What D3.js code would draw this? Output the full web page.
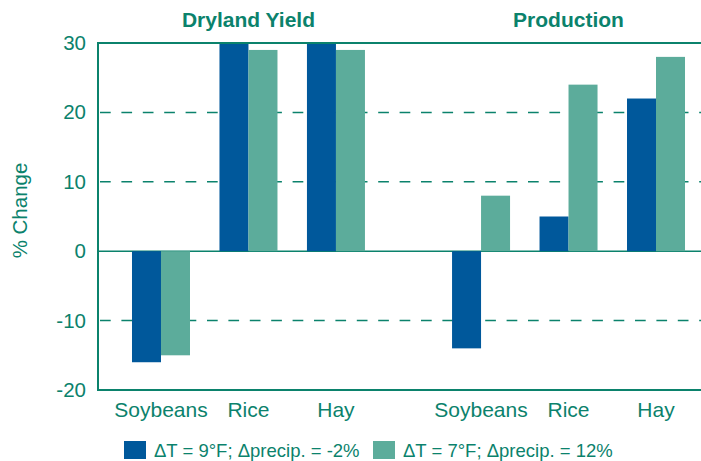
<!DOCTYPE html>
<html>
<head>
<meta charset="utf-8">
<script src="https://cdn.jsdelivr.net/npm/d3@7"></script>
<style>
    body { margin: 0; background: white; }
    text { font-family: "Liberation Sans", Arial, sans-serif; }
</style>
</head>
<body>
<div id="container"></div>
<script>
const panels = ["Dryland Yield", "Production"]
const crops = ["Soybeans", "Rice", "Hay"]
const seriesNames = ["\u0394T = 9\u00B0F; \u0394precip. = -2%", "\u0394T = 7\u00B0F; \u0394precip. = 12%"]
const hotDry = [[-16, 30, 30], [-14, 5, 22]]
const warmWet = [[-15, 29, 29], [8, 24, 28]]
const yTicks = [-20, -10, 0, 10, 20, 30]

const w = 701
const h = 461
const green = "#0b826c"
const colors = ["#00589b", "#5cac9b"]

const svg = d3.select("#container")
    .append("svg")
    .attr("width", w)
    .attr("height", h)

const plotTop = 43
const plotBottom = 390
const plotLeft = 98

const yScale = d3.scaleLinear()
    .domain([-20, 30])
    .range([plotBottom, plotTop])

const panelScale = d3.scaleBand()
    .domain(panels)
    .range([117.25, 699.75])
    .paddingInner(0.18)

const cropScale = d3.scaleBand()
    .domain(crops)
    .range([0, panelScale.bandwidth()])
    .paddingInner(0.337)
    .paddingOuter(0.1685)

const seriesScale = d3.scaleBand()
    .domain([0, 1])
    .range([0, cropScale.bandwidth()])

// gridlines
svg.selectAll(null)
    .data(yTicks.filter((d) => d !== 0 && d !== 30 && d !== -20))
    .enter()
    .append("line")
    .attr("x1", plotLeft)
    .attr("x2", w)
    .attr("y1", (d) => yScale(d))
    .attr("y2", (d) => yScale(d))
    .attr("stroke", green)
    .attr("stroke-width", 1.5)
    .attr("stroke-dasharray", "10.7,10.7")
    .attr("stroke-dashoffset", -2)

// zero line
svg.append("line")
    .attr("x1", plotLeft)
    .attr("x2", w)
    .attr("y1", yScale(0))
    .attr("y2", yScale(0))
    .attr("stroke", green)
    .attr("stroke-width", 1.5)

// bars
const rows = []
panels.forEach((p, pi) => {
    crops.forEach((c, ci) => {
        rows.push({ panel: p, crop: c, s: 0, v: hotDry[pi][ci] })
        rows.push({ panel: p, crop: c, s: 1, v: warmWet[pi][ci] })
    })
})

svg.selectAll(null)
    .data(rows)
    .enter()
    .append("rect")
    .attr("x", (d) => panelScale(d.panel) + cropScale(d.crop) + seriesScale(d.s))
    .attr("width", seriesScale.bandwidth())
    .attr("y", (d) => yScale(Math.max(0, d.v)))
    .attr("height", (d) => Math.abs(yScale(d.v) - yScale(0)))
    .attr("fill", (d) => colors[d.s])

// frame
svg.append("path")
    .attr("d", `M${w},${plotTop}H${plotLeft}V${plotBottom}H${w}`)
    .attr("fill", "none")
    .attr("stroke", green)
    .attr("stroke-width", 2)

// y axis labels
svg.selectAll(null)
    .data(yTicks)
    .enter()
    .append("text")
    .attr("x", 86)
    .attr("y", (d) => yScale(d) + 7)
    .attr("text-anchor", "end")
    .attr("fill", green)
    .style("font-size", "20.5px")
    .text((d) => d)

svg.append("text")
    .attr("transform", `translate(27, ${(plotTop + plotBottom) / 2 - 6}) rotate(-90)`)
    .attr("text-anchor", "middle")
    .attr("fill", green)
    .style("font-size", "20.5px")
    .text("% Change")

// category labels
svg.selectAll(null)
    .data(rows.filter((d) => d.s === 0))
    .enter()
    .append("text")
    .attr("x", (d) => panelScale(d.panel) + cropScale(d.crop) + cropScale.bandwidth() / 2)
    .attr("y", 417)
    .attr("text-anchor", "middle")
    .attr("fill", green)
    .style("font-size", "21px")
    .text((d) => d.crop)

// panel titles
svg.selectAll(null)
    .data(panels)
    .enter()
    .append("text")
    .attr("x", (d) => panelScale(d) + panelScale.bandwidth() / 2)
    .attr("y", 27)
    .attr("text-anchor", "middle")
    .attr("fill", green)
    .style("font-size", "21px")
    .style("font-weight", "bold")
    .text((d) => d)

// legend
const legendX = [124, 373]
const legend = svg.selectAll(null)
    .data(seriesNames)
    .enter()
    .append("g")
    .attr("transform", (d, i) => `translate(${legendX[i]}, 441)`)
legend.append("rect")
    .attr("width", 22)
    .attr("height", 18)
    .attr("fill", (d, i) => colors[i])
legend.append("text")
    .attr("x", 30)
    .attr("y", 16)
    .attr("fill", green)
    .style("font-size", "18.5px")
    .text((d) => d)
</script>
</body>
</html>
